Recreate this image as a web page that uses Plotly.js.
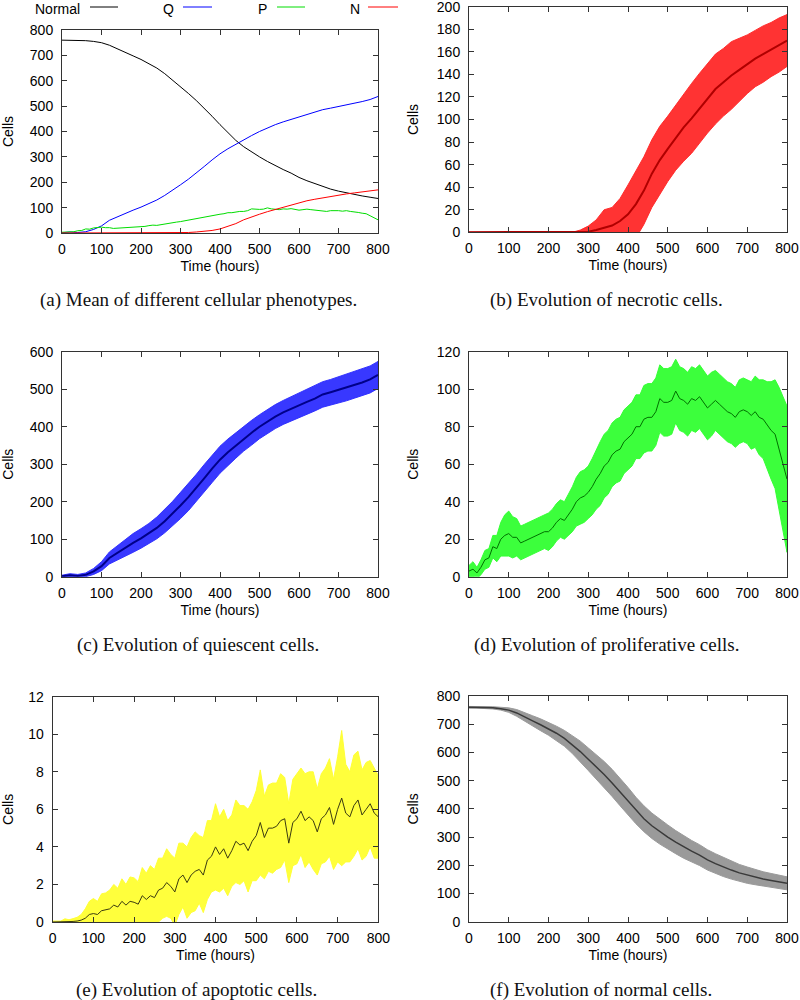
<!DOCTYPE html>
<html>
<head>
<meta charset="utf-8">
<script src="https://cdn.plot.ly/plotly-3.0.1.min.js"></script>
<style>html,body{margin:0;padding:0;background:#fff;}#chart{width:800px;height:1000px;}</style>
</head>
<body>
<div id="chart"></div>
<script>
// ---------- DATA ----------
const t20 = [0,20,40,60,80,100,120,140,160,180,200,220,240,260,280,300,320,340,360,380,400,420,440,460,480,500,520,540,560,580,600,620,640,660,680,700,720,740,760,780,800];
const t10 = [0,10,20,30,40,50,60,70,80,90,100,110,120,130,140,150,160,170,180,190,200,210,220,230,240,250,260,270,280,290,300,310,320,330,340,350,360,370,380,390,400,410,420,430,440,450,460,470,480,490,500,510,520,530,540,550,560,570,580,590,600,610,620,630,640,650,660,670,680,690,700,710,720,730,740,750,760,770,780,790,800];

// Normal cells (mean, std) on t20
const normalMean = [760,760,759,758,755,750,740,727,712,698,684,668,650,628,603,576,550,522,492,460,427,394,365,340,319,300,282,265,250,236,219,206,194,183,173,165,158,151,146,141,136];
const normalStd  = [3,3,3,4,5,8,12,15,18,21,23,25,28,32,37,40,43,46,48,49,49,47,46,45,44,43,41,40,38,37,36,35,34,32,30,29,27,26,25,24,23];

// Quiescent cells on t20
const qMean = [1,4,2,5,14,28,50,64,76,90,102,115,130,148,168,190,212,236,262,288,312,332,350,368,384,400,414,427,438,448,457,466,475,486,492,498,504,511,518,526,538];
const qStd  = [3,4,4,5,8,12,16,19,22,25,26,27,29,31,33,35,36,37,37,37,36,35,34,33,33,32,32,32,32,32,32,33,33,34,34,35,35,35,36,36,36];

// Necrotic cells on t20
const nMean = [0,0,0,0,0,0,0,0,0,0,0,0,0,0,0,0.5,2,4,6,10,16,25,37,52,64,74,84,93,101,110,119,127,133,139,144,149,154,158,162,166,170];
const nStd  = [0,0,0,0,0,0,0,0,0,0,0,0,0,0,2,5,9,16,16,20,26,30,30,30,30,29,29,30,31,31,31,31,30,30,28,26,25,25,24,24,23];

// Proliferative cells on t10
const pMean = [3,4,2,5,9,10,16,15,20,22,23,21,21,18,19,20,21,22,23,24,24,26,29,31,30,33,36,40,42,43,45,48,52,55,59,61,65,67,68,72,74,76,80,80,84,85,85,88,95,93,93,94,99,95,94,92,95,94,96,93,90,92,94,92,90,88,87,85,88,89,88,86,88,85,84,81,78,76,68,60,52];
const pStd  = [3,4,3,4,5,5,6,7,9,11,12,11,10,9,9,9,9,9,9,9,10,10,10,10,10,11,12,13,14,14,14,15,16,17,17,17,17,17,17,17,17,17,17,17,18,18,18,18,18,18,18,18,17,17,17,17,17,17,17,17,17,17,16,16,16,16,16,16,17,17,17,18,19,20,21,23,26,29,33,36,39];

// Apoptotic cells on t10
const aMean = [0,0,0,0.02,0.02,0.03,0.05,0.1,0.2,0.4,0.45,0.4,0.6,0.65,0.7,0.9,0.8,1.1,0.9,1.1,1.05,0.95,1.4,1.2,1.4,1.3,1.7,1.8,2.1,1.9,1.6,2.3,2.5,2.1,2.5,2.7,2.8,2.5,3.3,3.5,4.0,3.6,3.9,3.4,3.8,4.3,4.1,4.2,3.8,4.3,4.6,5.3,4.5,5.0,5.0,5.1,5.4,5.5,4.2,5.3,5.5,5.9,5.4,5.6,5.4,4.8,5.5,5.7,6.1,5.2,6.0,6.6,5.8,5.6,6.2,6.5,5.7,6.0,6.3,5.8,5.6];
const aStd  = [0.05,0.05,0.05,0.15,0.1,0.15,0.2,0.3,0.5,0.7,0.8,0.7,0.9,0.9,1.0,1.1,1.0,1.2,1.1,1.3,1.3,1.2,1.5,1.4,1.6,1.5,1.7,1.6,1.8,1.7,1.8,1.9,1.7,1.9,2.0,2.1,1.8,2.0,2.1,1.9,2.3,2.0,2.1,2.0,1.9,2.2,2.1,2.0,2.2,2.1,2.4,2.8,2.2,2.3,2.4,2.3,2.5,2.2,2.1,2.3,2.4,2.3,2.5,2.4,2.6,2.3,2.4,2.5,2.6,2.4,2.8,3.6,2.6,2.4,2.7,2.6,2.4,2.5,2.3,2.4,2.2];

const legendNames = ['Normal','Q','P','N'];
const captions = [
  '(a) Mean of different cellular phenotypes.',
  '(b) Evolution of necrotic cells.',
  '(c) Evolution of quiescent cells.',
  '(d) Evolution of proliferative cells.',
  '(e) Evolution of apoptotic cells.',
  '(f) Evolution of normal cells.'
];
const xTitle = 'Time (hours)';
const yTitle = 'Cells';

// ---------- BUILD ----------
const sansFont = {family:'Liberation Sans, Arial, sans-serif', size:14, color:'#000'};
const serifFont = {family:'Liberation Serif, Times New Roman, serif', size:19, color:'#111'};

function band(t, m, s, xa, ya, fillCol, lineCol, lw, name){
  const up = m.map((v,i)=>v+s[i]);
  const lo = m.map((v,i)=>v-s[i]);
  const xs = t.concat(t.slice().reverse());
  const ys = up.concat(lo.slice().reverse());
  return [
    {x:xs, y:ys, xaxis:xa, yaxis:ya, mode:'lines', fill:'toself', fillcolor:fillCol,
     line:{color:fillCol, width:1}, hoverinfo:'skip', name:name+' std'},
    {x:t, y:m, xaxis:xa, yaxis:ya, mode:'lines', line:{color:lineCol, width:lw}, name:name}
  ];
}

const data = [
  {x:t20, y:normalMean, xaxis:'x', yaxis:'y', mode:'lines', line:{color:'#000000', width:1}, name:legendNames[0]},
  {x:t20, y:qMean, xaxis:'x', yaxis:'y', mode:'lines', line:{color:'#0000ff', width:1}, name:legendNames[1]},
  {x:t10, y:pMean, xaxis:'x', yaxis:'y', mode:'lines', line:{color:'#00dd00', width:1}, name:legendNames[2]},
  {x:t20, y:nMean, xaxis:'x', yaxis:'y', mode:'lines', line:{color:'#ff0000', width:1}, name:legendNames[3]},
  ...band(t20, nMean, nStd, 'x2','y2', 'rgba(255,40,40,0.95)', '#b00000', 2, 'N'),
  ...band(t20, qMean, qStd, 'x3','y3', 'rgba(45,45,255,0.95)', '#00008a', 2, 'Q'),
  ...band(t10, pMean, pStd, 'x4','y4', 'rgba(50,255,50,0.95)', '#007000', 1, 'P'),
  ...band(t10, aMean, aStd, 'x5','y5', 'rgba(255,255,50,0.95)', '#3a3a10', 1, 'A'),
  ...band(t20, normalMean, normalStd, 'x6','y6', '#9a9a9a', '#3a3a3a', 1.5, 'Normal')
];

function xax(dom, anchor){
  return {domain:dom, anchor:anchor, range:[0,800], dtick:100, tick0:0,
    showline:true, linecolor:'#333', linewidth:1, mirror:'ticks', ticks:'inside', ticklen:5, tickcolor:'#333',
    showgrid:false, zeroline:false, tickfont:sansFont, ticklabelstandoff:3, ticklabeloverflow:'allow',
    title:{text:xTitle, font:sansFont, standoff:5}};
}
function yax(dom, anchor, max, dt, so){
  return {domain:dom, anchor:anchor, range:[0,max], dtick:dt, tick0:0,
    showline:true, linecolor:'#333', linewidth:1, mirror:'ticks', ticks:'inside', ticklen:5, tickcolor:'#333',
    showgrid:false, zeroline:false, tickfont:sansFont, ticklabelstandoff:5, ticklabeloverflow:'allow',
    title:{text:yTitle, font:sansFont, standoff:so}};
}

const L = [0.0775, 0.4725], R = [0.58625, 0.98375];
const layout = {
  width:800, height:1000, margin:{l:0,r:0,t:0,b:0,pad:0},
  paper_bgcolor:'#fff', plot_bgcolor:'#fff', showlegend:false,
  xaxis:  xax(L, 'y'),  yaxis:  yax([0.767,0.970], 'x', 800, 100, 14),
  xaxis2: xax(R, 'y2'), yaxis2: yax([0.7677,0.9933], 'x2', 200, 20, 14),
  xaxis3: xax(L, 'y3'), yaxis3: yax([0.4233,0.6483], 'x3', 600, 100, 14),
  xaxis4: xax(R, 'y4'), yaxis4: yax([0.4233,0.6483], 'x4', 120, 20, 14),
  xaxis5: xax([0.0659,0.4729], 'y5'), yaxis5: yax([0.078,0.3033], 'x5', 12, 2, 14),
  xaxis6: xax(R, 'y6'), yaxis6: yax([0.0783,0.304], 'x6', 800, 100, 14),
  annotations: [], shapes: []
};

// captions
const capPos = [[198,300],[606,300],[198,645],[606,645],[196,990],[601,990]];
captions.forEach((c,i)=>{
  layout.annotations.push({text:c, xref:'paper', yref:'paper', x:capPos[i][0]/800, y:1-capPos[i][1]/1000,
    xanchor:'center', yanchor:'middle', showarrow:false, font:serifFont});
});

// legend of panel (a): label then line sample
const legColors = ['#000000','#0000ff','#00dd00','#ff0000'];
const legText = [82,176,269,362];
const legLine = [[90,118],[183,212],[277,305],[368,398]];
legendNames.forEach((n,i)=>{
  layout.annotations.push({text:n, xref:'paper', yref:'paper', x:legText[i]/800, y:1-9/1000,
    xanchor:'right', yanchor:'middle', showarrow:false, font:sansFont});
  layout.shapes.push({type:'line', xref:'paper', yref:'paper', x0:legLine[i][0]/800, x1:legLine[i][1]/800,
    y0:1-7/1000, y1:1-7/1000, line:{color:legColors[i], width:1}});
});

Plotly.newPlot('chart', data, layout, {staticPlot:true, displayModeBar:false});
</script>
</body>
</html>
